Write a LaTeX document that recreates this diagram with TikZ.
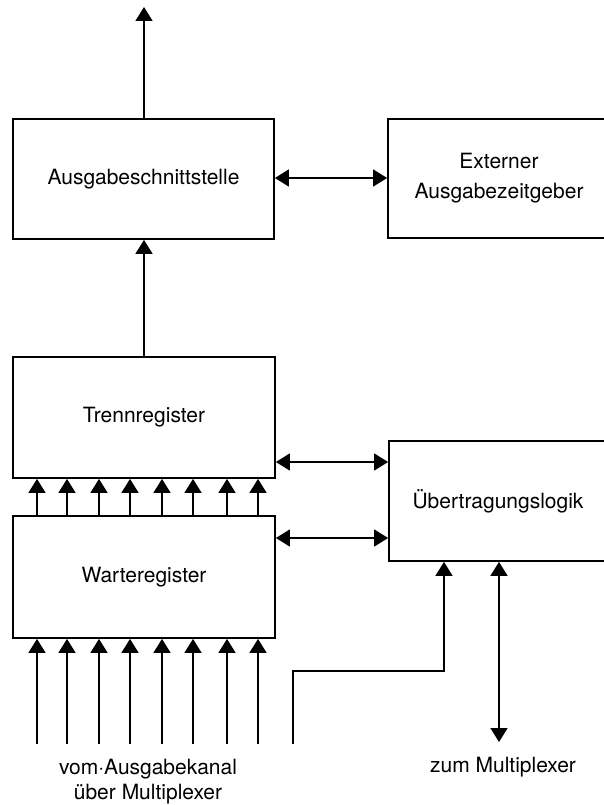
\documentclass[tikz,border=0pt]{standalone}
\usepackage{fontspec}
\setmainfont{TeX Gyre Heros}
\usetikzlibrary{arrows.meta}
\begin{document}
\begin{tikzpicture}[x=1pt,y=-1pt,
  every node/.style={font=\fontsize{21}{30}\selectfont},
  blk/.style={draw,line width=1.8pt,inner sep=0pt,align=center},
  wire/.style={line width=1.6pt},
  tip/.style={-{Triangle[width=17pt,length=14pt]}},
  both/.style={{Triangle[width=17pt,length=14pt]}-{Triangle[width=17pt,length=14pt]}},
  lbl/.style={align=center,font=\fontsize{21}{25}\selectfont}]
\useasboundingbox (0,0) rectangle (603,805);

% blocks
\node[blk,minimum width=261pt,minimum height=120pt] (as) at (143.5,179) {Ausgabeschnittstelle};
\node[blk,minimum width=222pt,minimum height=119pt] (ext) at (499,178.5) {Externer\\Ausgabezeitgeber};
\node[blk,minimum width=262pt,minimum height=121pt] (tr) at (144,417.5) {Trennregister};
\node[blk,minimum width=262pt,minimum height=122pt] (wr) at (144,577) {Warteregister};
\node[blk,minimum width=218pt,minimum height=120pt] (ue) at (498,501) {Übertragungslogik};

% output upwards
\coordinate (out) at (144,7);
\draw[wire,tip] (as.north -| 144,0) -- (out);
\draw[wire,tip] (tr.north -| 144,0) -- (as.south -| 144,0);

% bidirectional links
\draw[wire,both] (as.east |- 0,178) -- (ext.west |- 0,178);
\draw[wire,both] (tr.east |- 0,462) -- (ue.west |- 0,462);
\draw[wire,both] (wr.east |- 0,538) -- (ue.west |- 0,538);

% parallel transfer and parallel inputs
\foreach \x in {37,67,99,130,162,193,227,258}{
  \draw[wire,tip] (wr.north -| \x,0) -- (tr.south -| \x,0);
  \coordinate (in\x) at (\x,744);
  \draw[wire,tip] (in\x) -- (wr.south -| \x,0);
}

% control line and multiplexer link
\coordinate (ctl) at (293,744);
\draw[wire,tip] (ctl) -- (293,671) -- (444,671) -- (ue.south -| 444,0);
\coordinate (mux) at (499,742);
\draw[wire,both] (ue.south -| 499,0) -- (mux);

% labels
\node[lbl] (lin) at (148,782) {vom·Ausgabekanal\\über Multiplexer};
\node[lbl] (lmux) at (503,767) {zum Multiplexer};
\end{tikzpicture}
\end{document}
